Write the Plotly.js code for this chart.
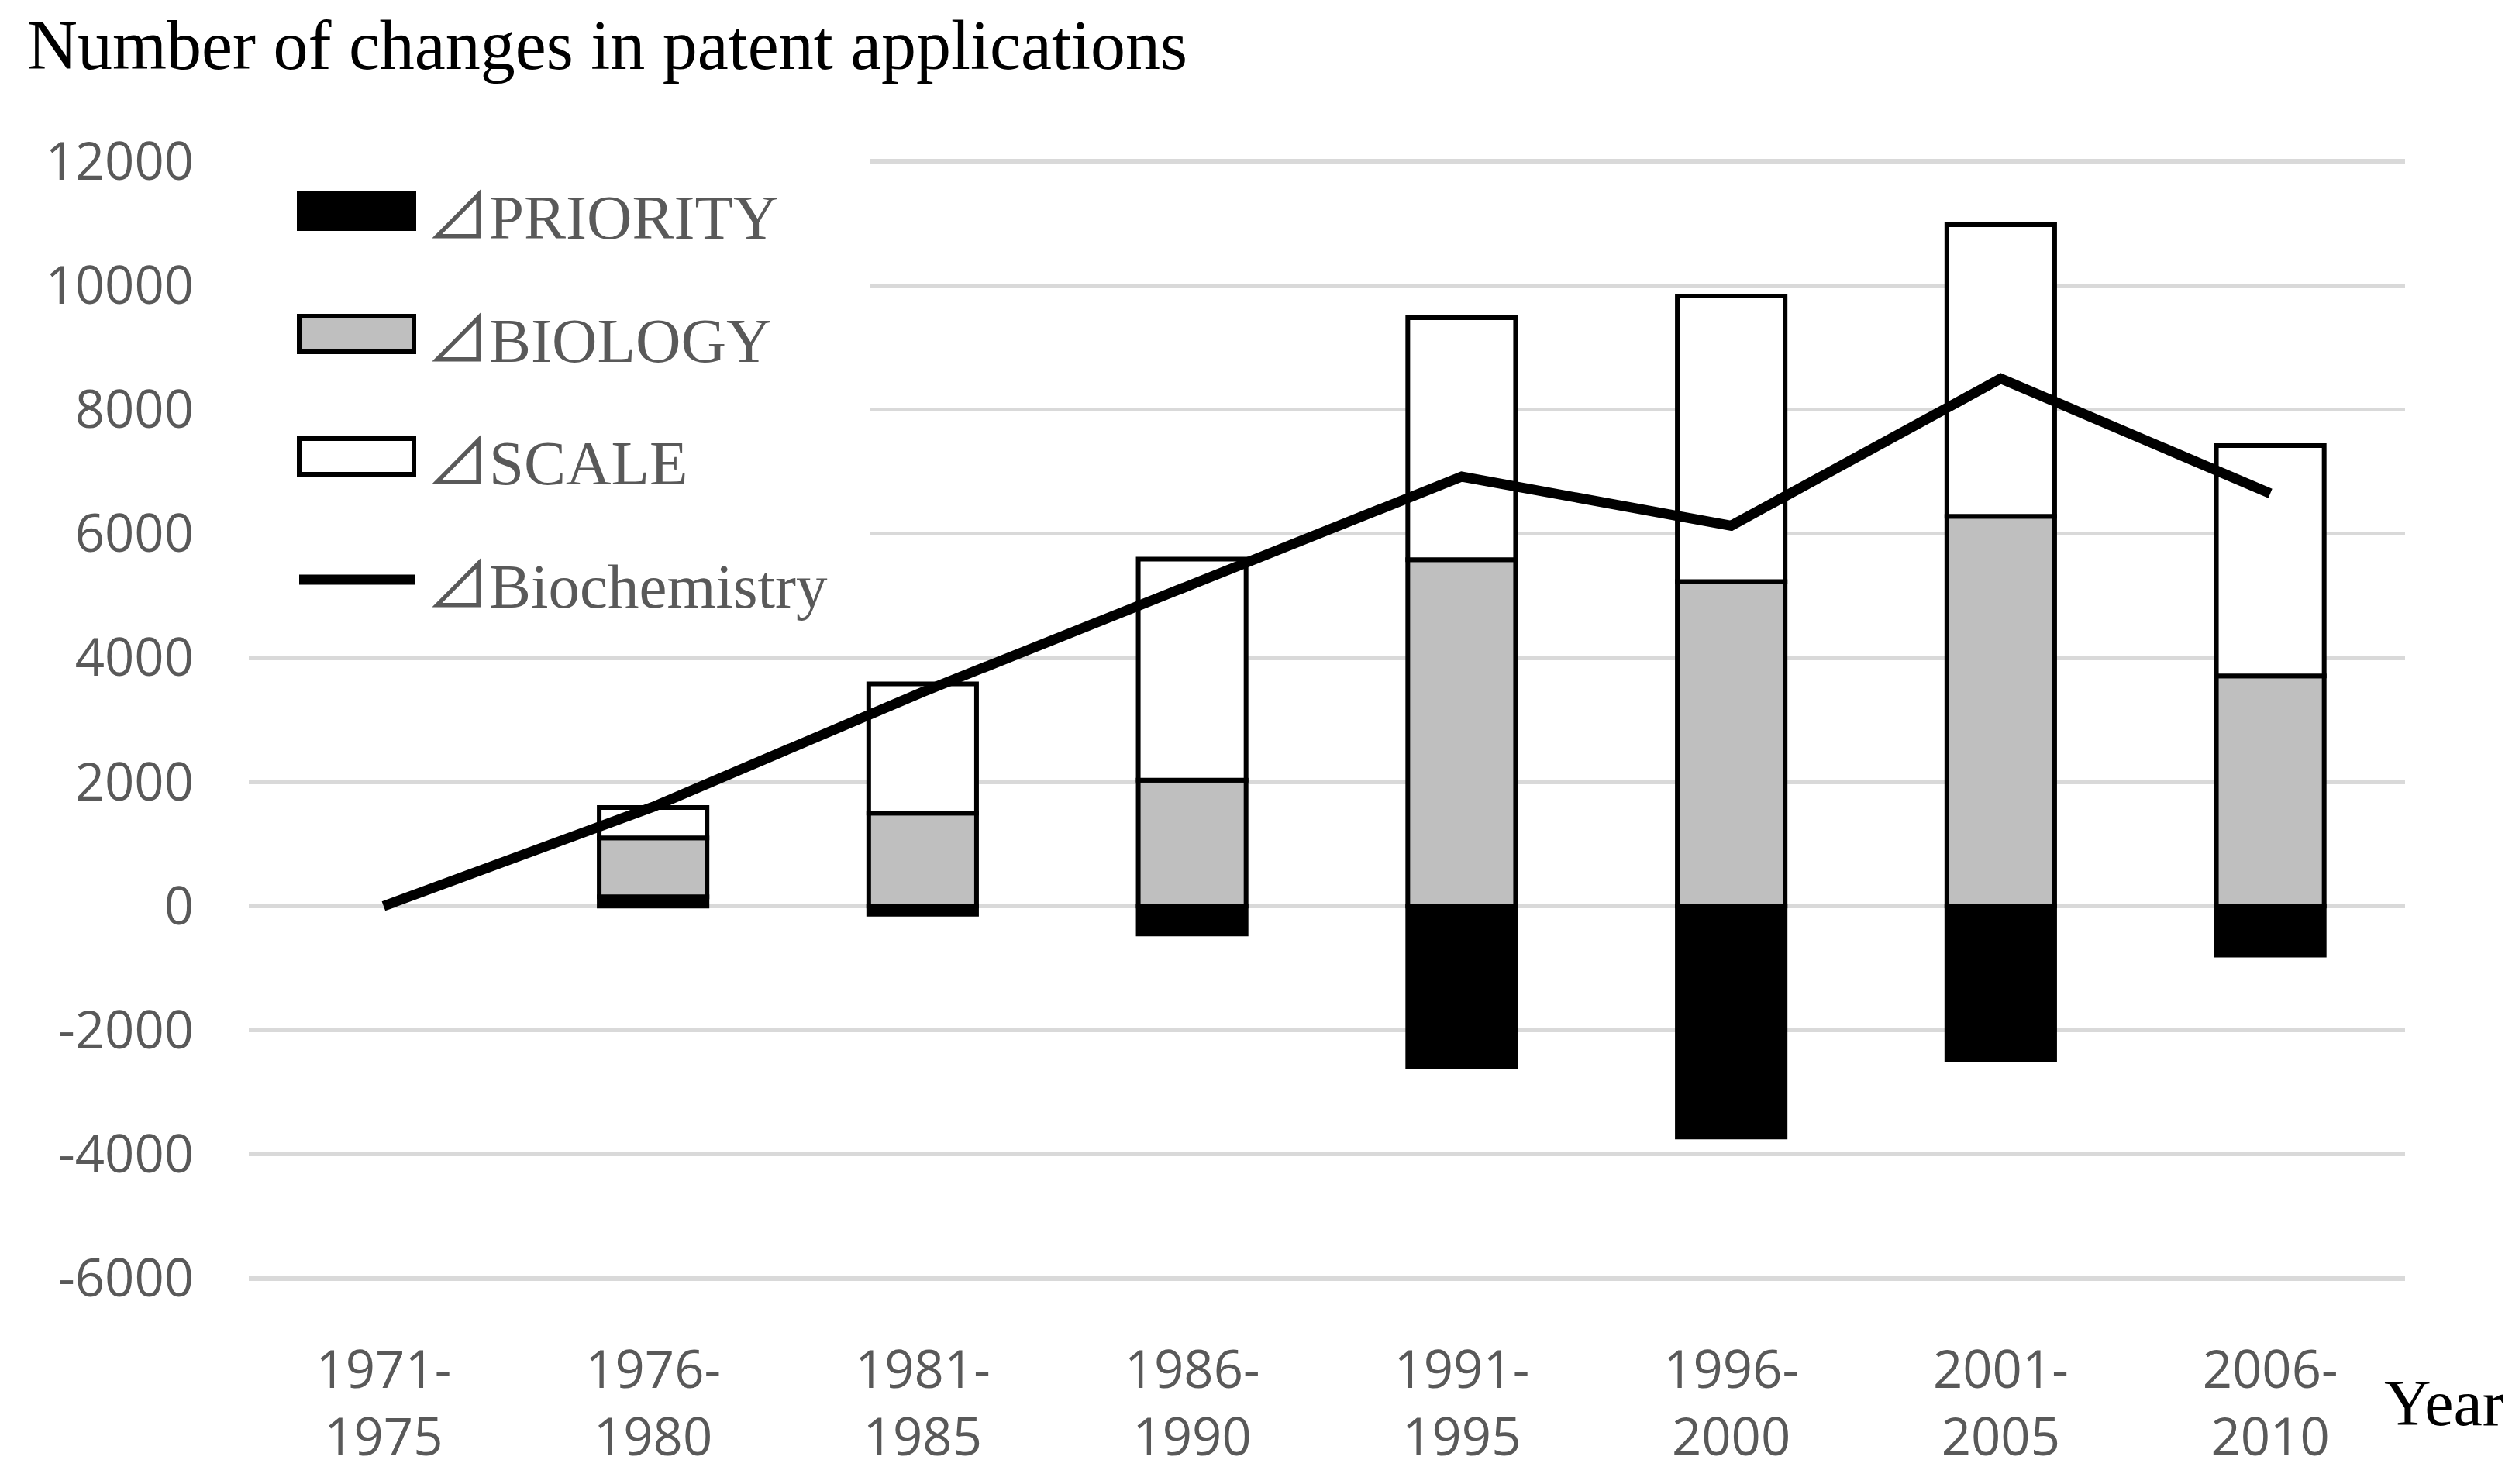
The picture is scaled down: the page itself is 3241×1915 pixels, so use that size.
<!DOCTYPE html>
<html>
<head>
<meta charset="utf-8">
<script src="https://cdn.plot.ly/plotly-3.0.1.min.js"></script>
<style>
  html, body { margin: 0; padding: 0; background: #fff; }
  #chart { width: 3241px; height: 1915px; }
</style>
</head>
<body>
<div id="chart"></div>
<script>
// periods on the x axis
var categories = ["1971-<br>1975", "1976-<br>1980", "1981-<br>1985", "1986-<br>1990",
                  "1991-<br>1995", "1996-<br>2000", "2001-<br>2005", "2006-<br>2010"]
var seriesNames = ["PRIORITY", "BIOLOGY", "SCALE", "Biochemistry"]
// values
var priority = [0, 150, -130, -450, -2580, -3720, -2480, -790]
var biology  = [0, 950, 1500, 2030, 5580, 5230, 6280, 3710]
var scale    = [0, 490, 2080, 3560, 3900, 4600, 4700, 3710]
var biochem  = [0, 1600, 3450, 5200, 6920, 6130, 8500, 6650]
var yTicks   = [-6000, -4000, -2000, 0, 2000, 4000, 6000, 8000, 10000, 12000]

var W = 3241, H = 1915
// plot box is padded 40 units top and bottom so the end grid lines survive
var plotL = 321, plotR = 3103, plotT = 205, plotB = 1653
var grey = "#595959"
var delta = '<span style="font-family:\'Noto Sans CJK JP\'">⊿</span>'

// pixel -> paper helpers (legend is drawn by hand)
function px(x){ return (x - plotL) / (plotR - plotL) }
function py(y){ return (plotB - y) / (plotB - plotT) }

// no outline where a bar is empty
function outline(vals){
	return {color: "#000", width: vals.map(v => v === 0 ? 0 : 6)}
}

var data = [
	{x: categories, y: priority, name: seriesNames[0], type: "bar",
	 marker: {color: "#000", line: outline(priority)}},
	{x: categories, y: biology, name: seriesNames[1], type: "bar",
	 marker: {color: "#bfbfbf", line: outline(biology)}},
	{x: categories, y: scale, name: seriesNames[2], type: "bar",
	 marker: {color: "#fff", line: outline(scale)}},
	{x: categories, y: biochem, name: seriesNames[3], type: "scatter", mode: "lines",
	 line: {color: "#000", width: 13}}
]

// hand-made legend: white box hiding the grid, swatches and labels
var swatchFill = ["#000", "#bfbfbf", "#fff"]
var rowY = [272, 431, 589, 748]
var shapes = [
	{type: "rect", xref: "paper", yref: "paper", layer: "above",
	 x0: px(plotL - 5), x1: px(1122), y0: py(800), y1: py(plotT - 5),
	 fillcolor: "#fff", line: {width: 0}}
]
swatchFill.forEach((fill, i) => {
	shapes.push({type: "rect", xref: "paper", yref: "paper", layer: "above",
		x0: px(386), x1: px(534), y0: py(rowY[i] + 23), y1: py(rowY[i] - 23),
		fillcolor: fill, line: {color: "#000", width: 6}})
})
shapes.push({type: "line", xref: "paper", yref: "paper", layer: "above",
	x0: px(386), x1: px(536), y0: py(rowY[3]), y1: py(rowY[3]),
	line: {color: "#000", width: 13}})

var annotations = seriesNames.map((name, i) => {
	return {text: delta + name, xref: "paper", yref: "paper", x: px(548), y: py(rowY[i]),
		xanchor: "left", yanchor: "middle", showarrow: false,
		font: {family: "Liberation Serif, DejaVu Serif, serif", size: 81, color: grey}}
})
annotations.push({text: "Year", xref: "paper", yref: "paper", x: px(3074), y: py(1810),
	xanchor: "left", yanchor: "middle", showarrow: false,
	font: {family: "Liberation Serif, serif", size: 84, color: "#000"}})

var layout = {
	width: W,
	height: H,
	paper_bgcolor: "#fff",
	plot_bgcolor: "#fff",
	barmode: "relative",
	bargap: 0.6,
	showlegend: false,
	margin: {l: plotL, r: W - plotR, t: plotT, b: H - plotB, pad: 0},
	title: {
		text: "Number of changes in patent applications",
		xref: "container", yref: "container",
		x: 35 / W, xanchor: "left",
		y: 1 - 57 / H, yanchor: "middle",
		font: {family: "Liberation Serif, serif", size: 90, color: "#000"}
	},
	xaxis: {
		type: "category",
		showgrid: false,
		showline: false,
		zeroline: false,
		ticks: "",
		ticklabelstandoff: 70,
		tickfont: {family: "Open Sans, sans-serif", size: 67, color: grey}
	},
	yaxis: {
		range: [-6040, 12040],
		tickvals: yTicks,
		ticktext: yTicks.map(String),
		showgrid: true,
		gridcolor: "#d9d9d9",
		gridwidth: 5.5,
		zeroline: false,
		showline: false,
		ticks: "",
		ticklabelstandoff: 70,
		tickfont: {family: "Open Sans, sans-serif", size: 67, color: grey}
	},
	shapes: shapes,
	annotations: annotations
}

Plotly.newPlot("chart", data, layout, {displayModeBar: false, staticPlot: true})
</script>
</body>
</html>
